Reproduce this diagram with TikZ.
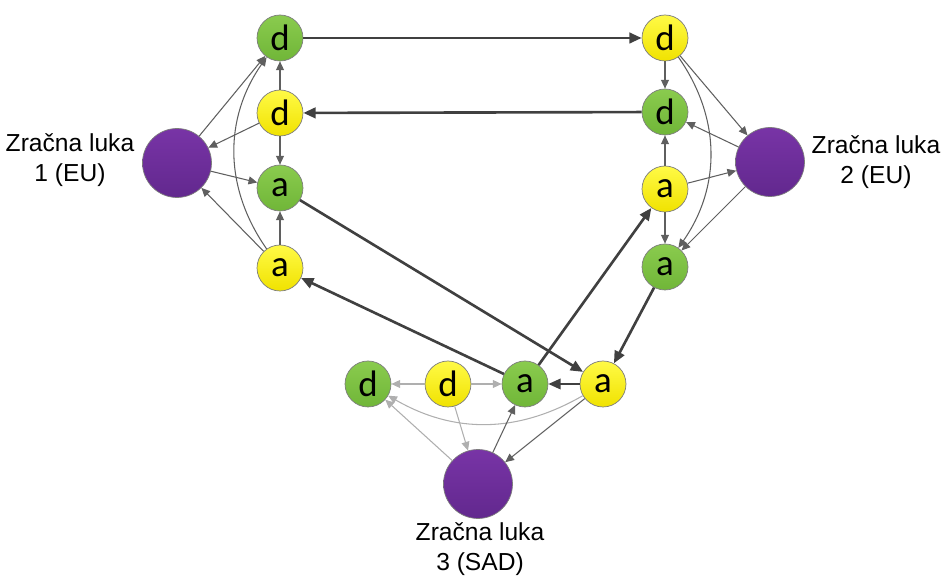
\documentclass[tikz,border=0pt]{standalone}
\usepackage{fontspec}
\setmainfont{Carlito}
\newfontfamily\captionfont{Liberation Sans}
\usetikzlibrary{arrows.meta}
\definecolor{lgreen}{RGB}{138,203,78}
\definecolor{dgreen}{RGB}{112,182,56}
\definecolor{lyellow}{RGB}{255,250,70}
\definecolor{dyellow}{RGB}{240,226,0}
\definecolor{lpurple}{RGB}{120,52,166}
\definecolor{dpurple}{RGB}{98,40,142}
\definecolor{rim}{RGB}{125,125,125}
\definecolor{darkline}{RGB}{64,64,64}
\definecolor{midline}{RGB}{95,95,95}
\definecolor{paleline}{RGB}{175,175,175}

\begin{document}
\begin{tikzpicture} [
	x=0.02cm, y=-0.02cm,
	slot/.style = {draw=rim, circle, minimum size=0.92cm, inner sep=0pt, font=\fontsize{21}{24}\selectfont},
	gslot/.style = {slot, top color=lgreen, bottom color=dgreen},
	yslot/.style = {slot, top color=lyellow, bottom color=dyellow},
	airport/.style = {draw=rim, circle, minimum size=1.38cm, inner sep=0pt, top color=lpurple, bottom color=dpurple},
	caption/.style = {align=center, font=\captionfont\fontsize{14}{17}\selectfont},
	flight/.style = {draw=darkline, line width=1.5pt, -{Triangle[length=7pt,width=6pt]}},
	link/.style = {draw=midline, line width=0.6pt, -{Triangle[length=5pt,width=4.5pt]}},
	pale/.style = {draw=paleline, line width=0.6pt, -{Triangle[length=5pt,width=4.5pt]}}
]
\useasboundingbox (0,0) rectangle (948,580);

% zracna luka 1
\node [airport] (A1) at (177,163) {};
\node [caption] (A1txt) at (70,160) {Zračna luka\\1 (EU)};
\node [gslot] (L1) at (280,38) {d};
\node [yslot] (L2) at (280,113) {d};
\node [gslot] (L3) at (280,188) {a};
\node [yslot] (L4) at (280,268) {a};

% zracna luka 2
\node [airport] (A2) at (770,162) {};
\node [caption] (A2txt) at (876,162) {Zračna luka\\2 (EU)};
\node [yslot] (R1) at (665,38) {d};
\node [gslot] (R2) at (665,112) {d};
\node [yslot] (R3) at (665,189) {a};
\node [gslot] (R4) at (665,267) {a};

% zracna luka 3
\node [airport] (A3) at (478,484) {};
\node [caption] (A3txt) at (480,549) {Zračna luka\\3 (SAD)};
\node [gslot] (B1) at (368,384) {d};
\node [yslot] (B2) at (448,384) {d};
\node [gslot] (B3) at (525,384) {a};
\node [yslot] (B4) at (603,384) {a};

% letovi
\draw [flight] (L1) -- (R1);
\draw [flight] (R2) -- (L2);
\draw [flight] (L3) -- (B4);
\draw [flight] (B3) -- (L4);
\draw [flight] (B3) -- (R3);
\draw [flight] (R4) -- (B4);
\draw [flight, line width=1pt] (B4) -- (B3);

% lijevo
\draw [link] (A1) -- (L1);
\draw [link] (L2) -- (A1);
\draw [link] (A1) -- (L3);
\draw [link] (L4) -- (A1);
\draw [link] (L2) -- (L1);
\draw [link] (L2) -- (L3);
\draw [link] (L4) -- (L3);
\draw [link] (L4) to[bend left=35] (L1);

% desno
\draw [link] (R1) -- (R2);
\draw [link] (R1) -- (A2);
\draw [link] (A2) -- (R2);
\draw [link] (R3) -- (R2);
\draw [link] (R3) -- (A2);
\draw [link] (R3) -- (R4);
\draw [link] (A2) -- (R4);
\draw [link] (R1) to[bend left=35] (R4);

% dolje
\draw [pale] (B2) -- (B1);
\draw [pale] (B2) -- (B3);
\draw [pale] (B4) to[bend left=30] (B1);
\draw [pale] (A3) -- (B1);
\draw [pale] (B2) -- (A3);
\draw [link] (A3) -- (B3);
\draw [link] (B4) -- (A3);
\end{tikzpicture}
\end{document}
